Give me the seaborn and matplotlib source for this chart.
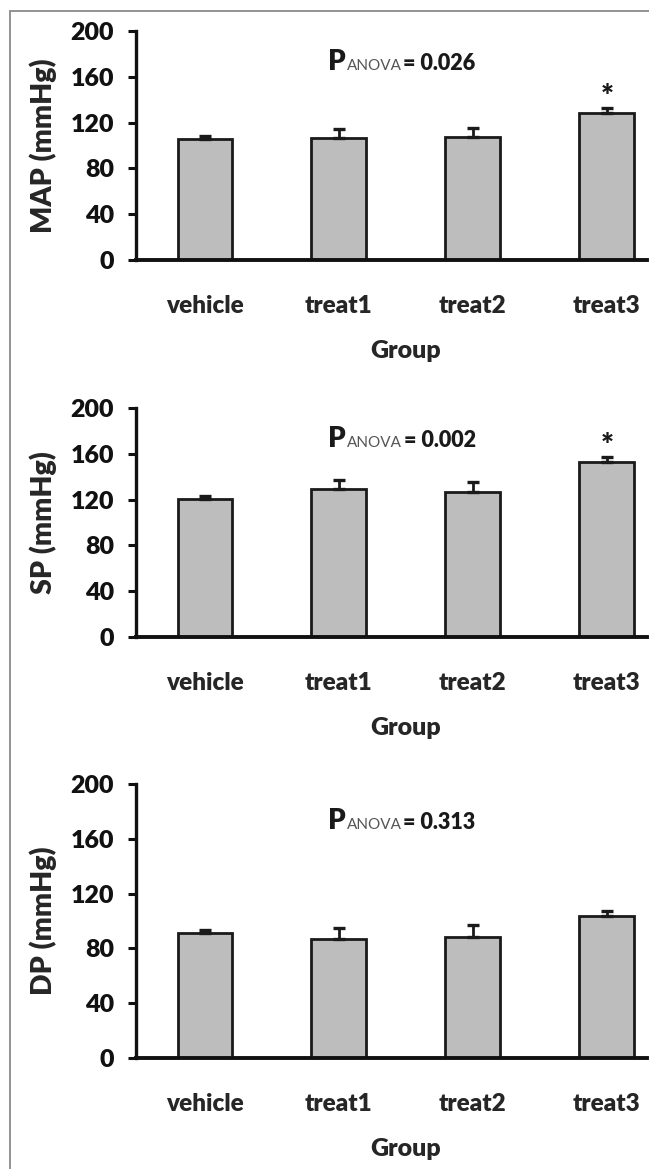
import numpy as np
import pandas as pd
import matplotlib
matplotlib.use("Agg")
import matplotlib.pyplot as plt
from matplotlib.patches import Rectangle
from matplotlib.offsetbox import TextArea, HPacker, AnnotationBbox
import seaborn as sns

groups = ["vehicle", "treat1", "treat2", "treat3"]

map_mean = [105.4, 106.8, 107.7, 128.1]
map_err = [2.9, 7.4, 7.8, 4.4]
sp_mean = [120.3, 129.3, 126.9, 152.6]
sp_err = [2.7, 7.7, 8.5, 4.6]
dp_mean = [91.0, 87.1, 88.5, 103.6]
dp_err = [2.4, 8.0, 8.4, 3.7]

ylabels = ["MAP (mmHg)", "SP (mmHg)", "DP (mmHg)"]
p_values = ["0.026", "0.002", "0.313"]
stars = [[False, False, False, True], [False, False, False, True], [False, False, False, False]]
yticks = [0, 40, 80, 120, 160, 200]
xlabel = "Group"

sns.set_theme(style="white")
plt.rcParams["font.family"] = ["Lato", "DejaVu Sans"]
plt.rcParams["font.weight"] = "bold"

W, H = 649, 1169
fig = plt.figure(figsize=(W / 100, H / 100), dpi=100)

panels = [(31, 260), (408, 637), (784, 1058)]
left_px, right_px = 136, 647
WT = "heavy"

means = [map_mean, sp_mean, dp_mean]
errs = [map_err, sp_err, dp_err]

for i, (top, bot) in enumerate(panels):
    ax = fig.add_axes([left_px / W, 1 - bot / H, (right_px - left_px) / W, (bot - top) / H])
    df = pd.DataFrame({"Group": groups, "value": means[i]})
    sns.barplot(data=df, x="Group", y="value", ax=ax, color="#bdbdbd", saturation=1,
                edgecolor="#1a1a1a", linewidth=2.0, width=0.41, errorbar=None)
    xs = np.arange(len(groups))
    ax.errorbar(xs, means[i], yerr=[np.zeros(len(groups)), errs[i]], fmt="none",
                ecolor="#1a1a1a", elinewidth=2.0, capsize=4.2, capthick=2.4, zorder=3)
    for j, s in enumerate(stars[i]):
        if s:
            ax.annotate("*", (xs[j], means[i][j] + errs[i][j]), xytext=(0, -2),
                        textcoords="offset points", ha="center", va="bottom",
                        fontsize=22, fontweight=WT, color="#1a1a1a")
    ax.set_xlim(-0.515, 3.30)
    ax.set_ylim(0, 200)
    ax.set_yticks(yticks)
    ax.set_yticklabels([str(t) for t in yticks], fontsize=18, fontweight=WT)
    ax.tick_params(axis="y", direction="out", length=6, width=2.2, pad=10, left=True, colors="#111111")
    ax.tick_params(axis="x", length=0, pad=25, labelsize=17.5)
    for lab in ax.get_xticklabels():
        lab.set_fontweight(WT)
    for sp in ["top", "right"]:
        ax.spines[sp].set_visible(False)
    ax.spines["left"].set_linewidth(2.4)
    ax.spines["bottom"].set_linewidth(2.8)
    ax.spines["left"].set_color("#111111")
    ax.spines["bottom"].set_color("#111111")
    ax.spines["bottom"].set_zorder(5)
    ax.set_ylabel(ylabels[i], fontsize=20.5, fontweight=WT, va="center")
    ax.yaxis.set_label_coords((43 - left_px) / (right_px - left_px), 0.5)
    ax.set_xlabel(xlabel, fontsize=18, fontweight=WT, va="top")
    ax.xaxis.set_label_coords((406 - left_px) / (right_px - left_px), -80 / (bot - top))
    ax.patch.set_alpha(0)

    pack = HPacker(children=[
        TextArea("P", textprops=dict(fontsize=20, fontweight=WT, color="#1a1a1a")),
        TextArea("ANOVA", textprops=dict(fontsize=11, fontweight="normal", color="#555555")),
        TextArea("= " + p_values[i], textprops=dict(fontsize=15.5, fontweight=WT, color="#1a1a1a")),
    ], align="baseline", pad=0, sep=1)
    ab = AnnotationBbox(pack, (1.47, 173), xycoords="data", frameon=False, box_alignment=(0.5, 0.5))
    ax.add_artist(ab)

fig.patches.append(Rectangle((10 / W, -0.02), 1.0, 1 - 11 / H + 0.02, transform=fig.transFigure,
                             fill=False, edgecolor="#8a8a8a", linewidth=1.3))

fig.savefig("out.png", dpi=100)
